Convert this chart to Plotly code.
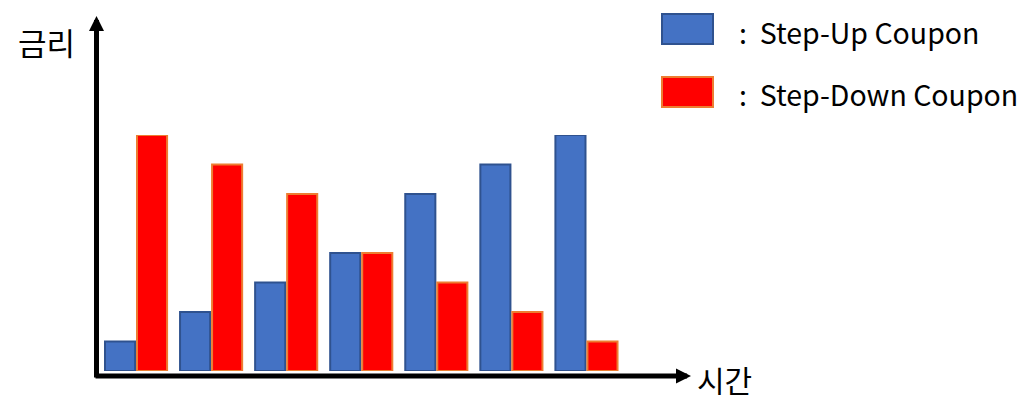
import plotly.graph_objects as go

W, H = 1036, 413
OFF = 8  # page body margin

periods = ["1", "2", "3", "4", "5", "6", "7"]
step_up = [1, 2, 3, 4, 6, 7, 8]
step_down = [8, 7, 6, 4, 3, 2, 1]
names = ["Step-Up Coupon", "Step-Down Coupon"]
fills = ["#4472C4", "#FF0000"]
edges = ["#2F528F", "#ED7D31"]
y_label = "금리"
x_label = "시간"

FONT = "Noto Sans CJK KR"

def px(x):
    return (x - OFF) / W

def py(y):
    return (H - (y - OFF)) / H

fig = go.Figure()
for vals, name, fc, ec in zip([step_up, step_down], names, fills, edges):
    fig.add_trace(go.Bar(
        x=periods, y=vals, name=name,
        marker=dict(color=fc, line=dict(color=ec, width=2)),
        showlegend=False,
    ))

annotations = []
# y axis arrow
annotations.append(dict(x=px(96.5), y=py(16), xref="paper", yref="paper",
                        ax=0, ay=363, axref="pixel", ayref="pixel",
                        text="", showarrow=True, arrowhead=2, arrowsize=0.6,
                        arrowwidth=5, arrowcolor="black"))
# x axis arrow
annotations.append(dict(x=px(691), y=py(376), xref="paper", yref="paper",
                        ax=-597, ay=0, axref="pixel", ayref="pixel",
                        text="", showarrow=True, arrowhead=2, arrowsize=0.6,
                        arrowwidth=5, arrowcolor="black"))
annotations.append(dict(x=px(46), y=py(42), xref="paper", yref="paper",
                        text=y_label, showarrow=False, xanchor="center", yanchor="middle",
                        font=dict(family=FONT, size=31, color="black")))
annotations.append(dict(x=px(724), y=py(379), xref="paper", yref="paper",
                        text=x_label, showarrow=False, xanchor="center", yanchor="middle",
                        font=dict(family=FONT, size=30, color="black")))

shapes = []
for i, (name, fc, ec) in enumerate(zip(names, fills, edges)):
    yc = 29 + i * 63
    shapes.append(dict(type="rect", xref="paper", yref="paper",
                       x0=px(662), x1=px(713), y0=py(yc - 15), y1=py(yc + 15),
                       fillcolor=fc, line=dict(color=ec, width=2)))
    annotations.append(dict(x=px(737), y=py(yc + 2), xref="paper", yref="paper",
                            text=":  " + name, showarrow=False, xanchor="left", yanchor="middle",
                            font=dict(family=FONT, size=28.5, color="black")))

fig.update_layout(
    width=W, height=H, autosize=False,
    margin=dict(l=0, r=0, t=0, b=0),
    paper_bgcolor="white", plot_bgcolor="white",
    barmode="group", bargap=0.147, bargroupgap=0.06,
    xaxis=dict(domain=[px(98.5), px(624)], visible=False, showgrid=False),
    yaxis=dict(domain=[py(371), py(135)], range=[0, 8], visible=False, showgrid=False),
    annotations=annotations, shapes=shapes,
)

fig.write_html("out.html")
